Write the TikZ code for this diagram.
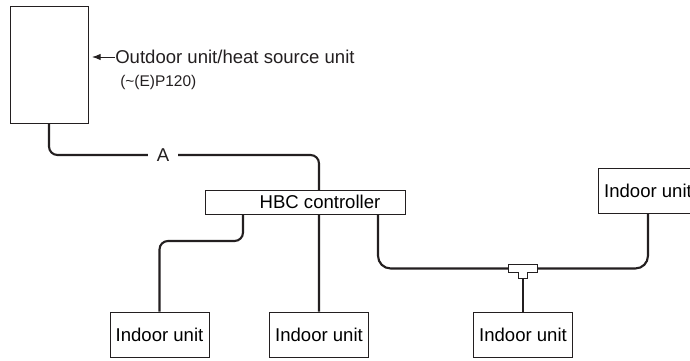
\documentclass[tikz,border=0pt]{standalone}
\usepackage{fontspec}
\setmainfont{Liberation Sans}
\usepackage{xcolor}
\usetikzlibrary{arrows.meta,backgrounds}
\definecolor{inkdark}{HTML}{231F20}
\tikzset{
  >=Latex,
  unit/.style = {draw=inkdark, line width=0.7pt, fill=white, inner sep=0pt, align=center, minimum width=2.475cm, minimum height=1.125cm, font=\fontsize{13.2}{15}\selectfont},
  ctrl/.style = {unit, minimum width=5cm, minimum height=0.6cm},
  note/.style = {inner sep=0pt, anchor=west, text=inkdark, font=\fontsize{13.2}{15}\selectfont},
  pipe/.style = {draw=inkdark, line width=1.5pt, rounded corners=6pt}
}

\begin{document}
\begin{tikzpicture}
\clip (0,0) rectangle (17.25,9);
% Outdoor unit
\node[unit, minimum width=1.95cm, minimum height=2.925cm] (outdoor) at (1.225,7.3875) {};
\node[note] (outlabel) at (2.875,7.575) {Outdoor unit/heat source unit};
\node[note, font=\fontsize{11}{13}\selectfont] (model) at (3.0,6.95) {(\textasciitilde(E)P120)};
\draw[->, draw=inkdark, line width=0.7pt] (outlabel.west) -- ([xshift=2.5pt]outdoor.east |- outlabel.west);

% Controller and indoor units
\node[ctrl] (hbc) at (7.625,3.95) {\hspace{0.75cm}HBC controller};
\node[unit] (unit1) at (3.9875,0.6375) {Indoor unit};
\node[unit] (unit2) at (7.975,0.6375) {Indoor unit};
\node[unit] (unit3) at (13.075,0.6375) {Indoor unit};
\node[unit] (unit4) at (16.2,4.2375) {Indoor unit};

% Branch points
\coordinate (elbowA) at (7.975,5.125);
\coordinate (hbcL) at (6.075,3.65);
\coordinate (bendL) at (3.9875,2.975);
\coordinate (hbcR) at (9.45,3.65);
\coordinate (teeL) at (12.71,2.2875);
\coordinate (teeR) at (13.435,2.2875);
\coordinate (teeB) at (13.075,2.05);

% Pipes
\begin{scope}[on background layer]
\draw[pipe] (outdoor.south) |- (elbowA) -- (unit2.north);
\draw[pipe] (hbcL) |- (bendL) -- (unit1.north);
\draw[pipe, rounded corners=9pt] (hbcR) |- (teeL);
\draw[pipe, rounded corners=9pt] (unit4.south) |- (teeR);
\draw[pipe] (teeB) -- (unit3.north);
\end{scope}
\node[fill=white, inner sep=0pt, minimum width=0.75cm, minimum height=0.5cm, text=inkdark, font=\fontsize{13.2}{15}\selectfont] (labelA) at (4.075,5.125) {A};

% Tee
\draw[draw=inkdark, line width=0.7pt, fill=white] ([yshift=0.1cm]teeL) -- ([yshift=0.1cm]teeR) -- ([yshift=-0.1cm]teeR) -- ++(-0.25,0) -- ++(0,-0.14) -- ++(-0.225,0) -- ++(0,0.14) -- ([yshift=-0.1cm]teeL) -- cycle;
\end{tikzpicture}
\end{document}
